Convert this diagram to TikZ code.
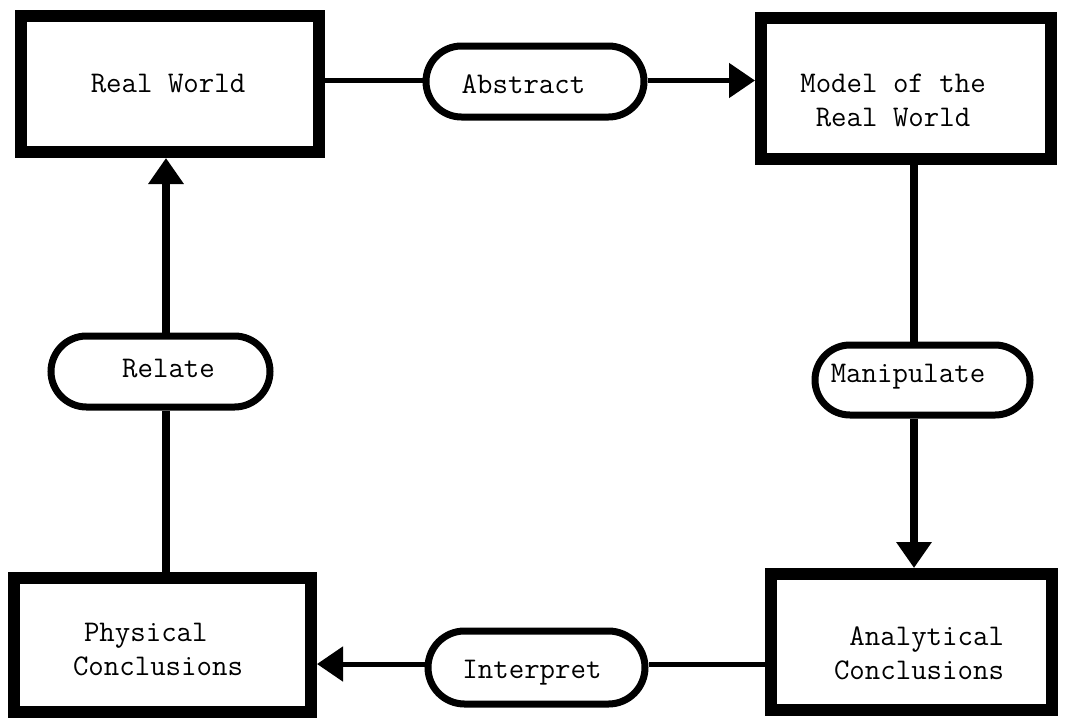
\documentclass[tikz,border=0pt]{standalone}
\usepackage{fontspec}
\usetikzlibrary{arrows.meta,shapes.misc}

\begin{document}
\begin{tikzpicture}[x=1pt,y=-1pt,
  box/.style={draw, line width=12pt, rectangle, inner sep=0pt},
  pill/.style={draw, line width=7pt, rounded rectangle, inner sep=0pt},
  lbl/.style={font=\ttfamily\fontsize{30}{34}\selectfont, inner sep=0pt},
  hlink/.style={line width=5pt},
  vlink/.style={line width=7.5pt},
  tip/.style={-{Triangle[length=26pt,width=34pt]}}
]
\useasboundingbox (0,0) rectangle (1066,721);

% the four stages
\node[box, minimum width=298pt, minimum height=136pt] (rw)    at (170,84)     {};
\node[box, minimum width=290pt, minimum height=141pt] (model) at (906,88.5)   {};
\node[box, minimum width=281pt, minimum height=136pt] (ana)   at (911.5,642)  {};
\node[box, minimum width=297pt, minimum height=134pt] (phys)  at (162.5,645)  {};

\node[lbl, anchor=base] (rw-t) at (168,92) {Real World};
\node[lbl, align=center] (model-t) at (893,100) {Model of the\\Real World};
\node[lbl, align=right] (ana-t) at (919,653.5) {Analytical\\Conclusions};
\node[lbl, align=left] (phys-t) at (158,650) {\hspace*{11pt}Physical\\Conclusions};

% the four actions
\node[pill, minimum width=218pt, minimum height=71pt] (abs) at (535,81.5)    {};
\node[pill, minimum width=215pt, minimum height=70pt] (man) at (922.5,380)   {};
\node[pill, minimum width=217pt, minimum height=73pt] (int) at (536.5,667.5) {};
\node[pill, minimum width=219pt, minimum height=71pt] (rel) at (160.5,371.5) {};

\node[lbl, anchor=base] (abs-t) at (523.5,93) {Abstract};
\node[lbl, anchor=base] (man-t) at (908,382)  {Manipulate};
\node[lbl, anchor=base] (int-t) at (532,678)  {Interpret};
\node[lbl, anchor=base] (rel-t) at (168.5,377) {Relate};

% guide lines for the connectors
\coordinate (rcol) at (914,0);
\coordinate (lcol) at (166,0);
\coordinate (brow) at (0,664);
\coordinate (trow) at (0,80.5);

% connectors
\draw[hlink] (rw.east |- trow) -- (abs.west |- trow);
\draw[hlink, tip] (abs.east |- trow) -- (model.west |- trow);
\draw[vlink] (model.south -| rcol) -- (man.north -| rcol);
\draw[vlink, tip] (man.south -| rcol) -- (ana.north -| rcol);
\draw[hlink] (ana.west |- brow) -- (int.east |- brow);
\draw[hlink, tip] (int.west |- brow) -- (phys.east |- brow);
\draw[vlink] (phys.north -| lcol) -- (rel.south -| lcol);
\draw[vlink, tip] (rel.north -| lcol) -- (rw.south -| lcol);
\end{tikzpicture}
\end{document}
